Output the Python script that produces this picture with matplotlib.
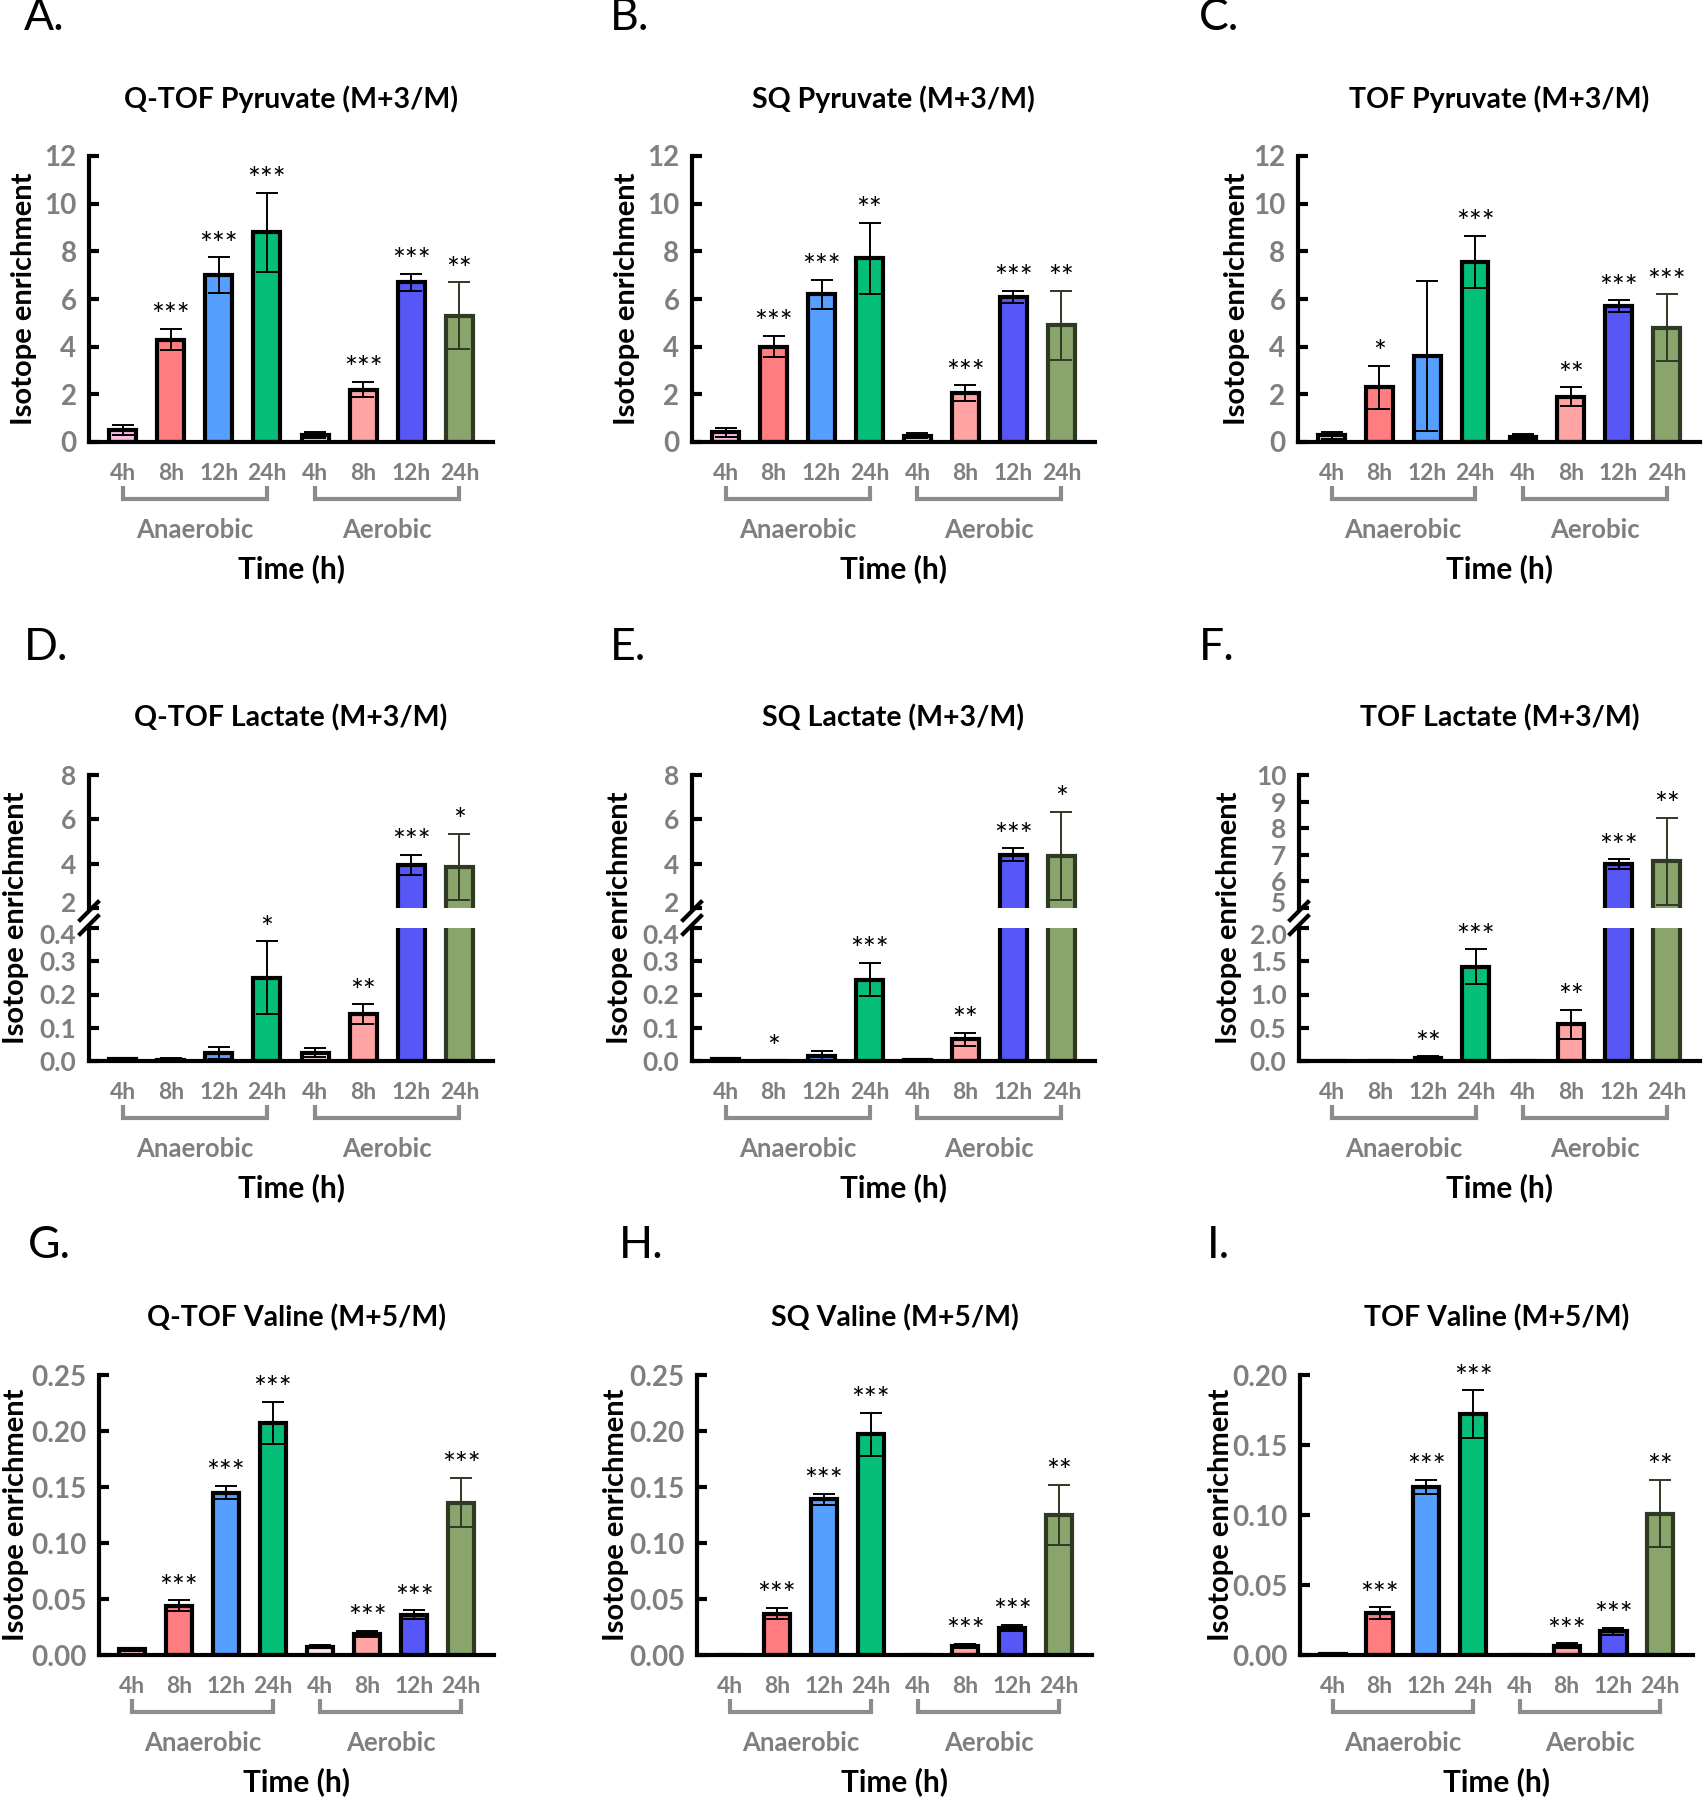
import matplotlib
matplotlib.use('Agg')
import matplotlib.pyplot as plt
from matplotlib.lines import Line2D
from matplotlib.transforms import blended_transform_factory as btf, ScaledTranslation
import numpy as np

plt.rcParams['font.family'] = ['Lato', 'DejaVu Sans']
plt.rcParams['font.weight'] = 'bold'

# ---------------- data ----------------
time_labels = ['4h', '8h', '12h', '24h', '4h', '8h', '12h', '24h']
group_labels = ['Anaerobic', 'Aerobic']
bar_colors = ['#FBBDE3', '#FF7C80', '#559FFF', '#05BE78',
              '#FDE3E3', '#FFA3A3', '#5757F8', '#8AA56B']
edge_colors = ['black'] * 7 + ['#2F3A25']

titles = ['Q-TOF Pyruvate (M+3/M)', 'SQ Pyruvate (M+3/M)', 'TOF Pyruvate (M+3/M)',
          'Q-TOF Lactate (M+3/M)', 'SQ Lactate (M+3/M)', 'TOF Lactate (M+3/M)',
          'Q-TOF Valine (M+5/M)', 'SQ Valine (M+5/M)', 'TOF Valine (M+5/M)']
panel_letters = ['A.', 'B.', 'C.', 'D.', 'E.', 'F.', 'G.', 'H.', 'I.']

qtof_pyr_mean = [0.5, 4.3, 7.0, 8.8, 0.3, 2.2, 6.7, 5.3]
qtof_pyr_err = [0.2, 0.45, 0.75, 1.65, 0.12, 0.33, 0.35, 1.4]
qtof_pyr_sig = ['', '***', '***', '***', '', '***', '***', '**']

sq_pyr_mean = [0.4, 4.0, 6.2, 7.7, 0.27, 2.05, 6.1, 4.9]
sq_pyr_err = [0.2, 0.45, 0.6, 1.5, 0.12, 0.33, 0.25, 1.45]
sq_pyr_sig = ['', '***', '***', '**', '', '***', '***', '**']

tof_pyr_mean = [0.28, 2.3, 3.6, 7.55, 0.22, 1.9, 5.7, 4.8]
tof_pyr_err = [0.15, 0.9, 3.15, 1.1, 0.12, 0.4, 0.25, 1.4]
tof_pyr_sig = ['', '*', '', '***', '', '**', '***', '***']

qtof_lac_mean = [0.006, 0.004, 0.025, 0.25, 0.025, 0.14, 3.95, 3.85]
qtof_lac_err = [0.003, 0.005, 0.018, 0.11, 0.013, 0.03, 0.45, 1.5]
qtof_lac_sig = ['', '', '', '*', '', '**', '***', '*']

sq_lac_mean = [0.005, 0.001, 0.015, 0.245, 0.002, 0.065, 4.4, 4.35]
sq_lac_err = [0.003, 0.001, 0.015, 0.05, 0.001, 0.02, 0.3, 2.0]
sq_lac_sig = ['', '*', '', '***', '', '**', '***', '*']

tof_lac_mean = [0.0, 0.0, 0.04, 1.42, 0.0, 0.55, 6.65, 6.75]
tof_lac_err = [0.0, 0.0, 0.03, 0.26, 0.0, 0.22, 0.18, 1.65]
tof_lac_sig = ['', '', '**', '***', '', '**', '***', '**']

qtof_val_mean = [0.005, 0.044, 0.145, 0.207, 0.0075, 0.019, 0.036, 0.136]
qtof_val_err = [0.0015, 0.005, 0.006, 0.019, 0.0012, 0.0025, 0.004, 0.022]
qtof_val_sig = ['', '***', '***', '***', '', '***', '***', '***']

sq_val_mean = [0.0, 0.037, 0.139, 0.197, 0.0, 0.008, 0.024, 0.125]
sq_val_err = [0.0, 0.005, 0.005, 0.019, 0.0, 0.002, 0.003, 0.027]
sq_val_sig = ['', '***', '***', '***', '', '***', '***', '**']

tof_val_mean = [0.001, 0.030, 0.12, 0.172, 0.0, 0.0065, 0.017, 0.101]
tof_val_err = [0.0003, 0.004, 0.005, 0.017, 0.0, 0.0018, 0.0025, 0.024]
tof_val_sig = ['', '***', '***', '***', '', '***', '***', '**']

pyr_ticks = [0, 2, 4, 6, 8, 10, 12]
pyr_ticklabels = ['0', '2', '4', '6', '8', '10', '12']
lac_low_ticks = [0.0, 0.1, 0.2, 0.3, 0.4]
lac_low_ticklabels = ['0.0', '0.1', '0.2', '0.3', '0.4']
lac_high_ticks = [2, 4, 6, 8]
lac_high_ticklabels = ['2', '4', '6', '8']
toflac_low_ticks = [0.0, 0.5, 1.0, 1.5, 2.0]
toflac_low_ticklabels = ['0.0', '0.5', '1.0', '1.5', '2.0']
toflac_high_ticks = [5, 6, 7, 8, 9, 10]
toflac_high_ticklabels = ['5', '6', '7', '8', '9', '10']
val_ticks = [0.0, 0.05, 0.10, 0.15, 0.20, 0.25]
val_ticklabels = ['0.00', '0.05', '0.10', '0.15', '0.20', '0.25']
tofval_ticks = [0.0, 0.05, 0.10, 0.15, 0.20]
tofval_ticklabels = ['0.00', '0.05', '0.10', '0.15', '0.20']

# ---------------- layout (pixels) ----------------
W, H = 1704, 1800
fig = plt.figure(figsize=(W / 100, H / 100), dpi=100)
GRAY = '#7F7F7F'
XLIM = (-0.7, 7.7)
x = np.arange(8)


def fx(p):
    return p / W


def fy(p):
    return 1 - p / H


def add_ax(l, r, t, b):
    return fig.add_axes([fx(l), fy(b), (r - l) / W, (b - t) / H])


def style_y(ax, ticks, labels, lim, size=20):
    ax.set_ylim(*lim)
    ax.set_yticks(ticks)
    ax.set_yticklabels(labels)
    ax.tick_params(axis='y', direction='in', length=7, width=3,
                   labelsize=size, labelcolor=GRAY, pad=9)
    ax.spines['left'].set_linewidth(3)
    ax.spines['top'].set_visible(False)
    ax.spines['right'].set_visible(False)
    ax.set_xlim(*XLIM)


def shift_label(lbl, dy_px):
    lbl.set_transform(lbl.get_transform() +
                      ScaledTranslation(0, dy_px / 100, fig.dpi_scale_trans))


def draw_bars(ax, mean, err, sig):
    ax.bar(x, mean, width=0.56, color=bar_colors, edgecolor=edge_colors,
           linewidth=3, zorder=1)
    for i in range(8):
        if err[i] > 0:
            ax.errorbar(x[i], mean[i], yerr=err[i], fmt='none',
                        ecolor=edge_colors[i] if i == 7 else 'black',
                        elinewidth=1.4, capsize=8, capthick=1.4, zorder=2)
        if sig[i]:
            ax.annotate(sig[i], (x[i], mean[i] + err[i]), xytext=(0, -1),
                        textcoords='offset points', ha='center', va='bottom',
                        fontsize=22, fontweight='normal', color='black')


def decorate(ax, top, bottom, ylab_x, title, letter, letter_pos):
    tr = btf(ax.transData, fig.transFigure)
    ax.set_xticks(x)
    ax.set_xticklabels(time_labels)
    ax.tick_params(axis='x', length=0, pad=15, labelsize=16.5, labelcolor=GRAY)
    ax.spines['bottom'].set_linewidth(3)
    # group brackets
    for g, (a, b) in enumerate([(0, 3), (4, 7)]):
        fig.add_artist(Line2D([a, a, b, b],
                              [fy(bottom + 44), fy(bottom + 57), fy(bottom + 57), fy(bottom + 44)],
                              transform=tr, color='#8C8C8C', lw=3,
                              solid_joinstyle='miter', solid_capstyle='butt'))
        fig.text((a + b) / 2, fy(bottom + 88), group_labels[g], transform=tr,
                 ha='center', va='center', fontsize=18.5, color=GRAY)
    fig.text(3.5, fy(bottom + 127), 'Time (h)', transform=tr, ha='center',
             va='center', fontsize=21.5, color='black')
    fig.text(3.5, fy(top - 57), title, transform=tr, ha='center', va='center',
             fontsize=20.5, color='black')
    fig.text(fx(ylab_x), fy((top + bottom) / 2), 'Isotope enrichment',
             rotation=90, ha='center', va='center', fontsize=21, color='black')
    fig.text(fx(letter_pos[0]), fy(letter_pos[1]), letter, ha='left',
             va='center', fontsize=32, fontweight='normal', color='black')


# ---------- Row 1: pyruvate ----------
row1 = [(89, 493, qtof_pyr_mean, qtof_pyr_err, qtof_pyr_sig, 24, (24, 18)),
        (692, 1095, sq_pyr_mean, sq_pyr_err, sq_pyr_sig, 627, (610, 18)),
        (1298, 1700, tof_pyr_mean, tof_pyr_err, tof_pyr_sig, 1237, (1199, 18))]
T1, B1 = 156, 442
for k, (l, r, m, e, s, ylx, lp) in enumerate(row1):
    ax = add_ax(l, r, T1, B1)
    draw_bars(ax, m, e, s)
    style_y(ax, pyr_ticks, pyr_ticklabels, (0, 12))
    decorate(ax, T1, B1, ylx, titles[k], panel_letters[k], lp)

# ---------- Row 2: lactate (broken axis) ----------
row2 = [(89, 493, qtof_lac_mean, qtof_lac_err, qtof_lac_sig, 16, (24, 648),
         lac_high_ticks, lac_high_ticklabels, (2, 8), lac_low_ticks, lac_low_ticklabels, (0, 0.4)),
        (692, 1095, sq_lac_mean, sq_lac_err, sq_lac_sig, 620, (610, 648),
         lac_high_ticks, lac_high_ticklabels, (2, 8), lac_low_ticks, lac_low_ticklabels, (0, 0.4)),
        (1299, 1700, tof_lac_mean, tof_lac_err, tof_lac_sig, 1229, (1199, 648),
         toflac_high_ticks, toflac_high_ticklabels, (5, 10), toflac_low_ticks, toflac_low_ticklabels, (0, 2.0))]
UT, UB, LT, LB = 775, 908, 928, 1061
for k, (l, r, m, e, s, ylx, lp, ht, hl, hlim, lt, ll, llim) in enumerate(row2):
    axu = add_ax(l, r, UT, UB)
    axl = add_ax(l, r, LT, LB)
    for a in (axu, axl):
        draw_bars(a, m, e, s)
    style_y(axu, ht, hl, hlim, size=19)
    style_y(axl, lt, ll, llim, size=19)
    # keep the two labels at the break from colliding
    shift_label(axu.get_yticklabels()[0], 6)
    shift_label(axl.get_yticklabels()[-1], -6)
    axu.spines['bottom'].set_visible(False)
    axu.set_xticks([])
    decorate(axl, UT, LB, ylx, titles[3 + k], panel_letters[3 + k], lp)
    # axis break marks
    for yb in (UB + 3, LT - 3):
        fig.add_artist(Line2D([fx(l - 9), fx(l + 9)], [fy(yb + 9), fy(yb - 9)],
                              color='black', lw=3))

# ---------- Row 3: valine ----------
row3 = [(99, 494, qtof_val_mean, qtof_val_err, qtof_val_sig, 16, (28, 1246),
         val_ticks, val_ticklabels, (0, 0.25)),
        (697, 1092, sq_val_mean, sq_val_err, sq_val_sig, 616, (619, 1246),
         val_ticks, val_ticklabels, (0, 0.25)),
        (1300, 1693, tof_val_mean, tof_val_err, tof_val_sig, 1221, (1207, 1246),
         tofval_ticks, tofval_ticklabels, (0, 0.20))]
T3, B3 = 1375, 1655
for k, (l, r, m, e, s, ylx, lp, t, tl, lim) in enumerate(row3):
    ax = add_ax(l, r, T3, B3)
    draw_bars(ax, m, e, s)
    style_y(ax, t, tl, lim)
    decorate(ax, T3, B3, ylx, titles[6 + k], panel_letters[6 + k], lp)

fig.savefig('out.png', dpi=100, facecolor='white')
